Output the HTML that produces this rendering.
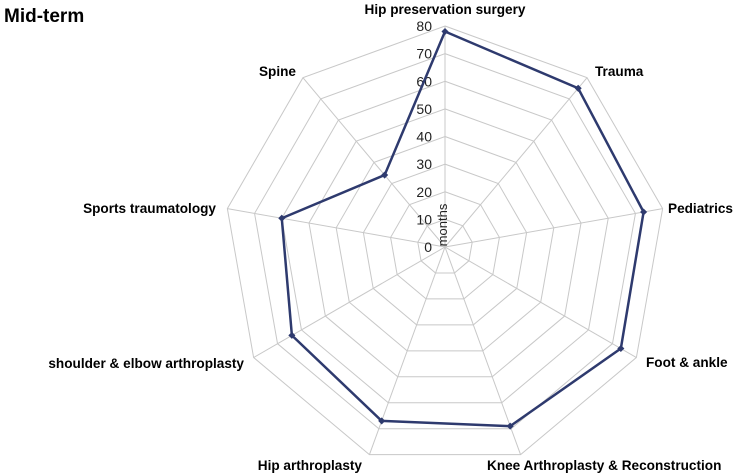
<!DOCTYPE html>
<html><head><meta charset="utf-8"><style>
html,body{margin:0;padding:0;background:#fff;}
svg{display:block;font-family:"Liberation Sans",Arial,sans-serif;}
</style></head><body>
<svg id="chart" width="738" height="476">
<text x="4" y="22" font-size="19" font-weight="bold" fill="#000">Mid-term</text>
<g id="grid"></g><g id="ticks"></g><g id="labels"></g><g id="series"></g>
</svg>
<script>
const categories=["Hip preservation surgery","Trauma","Pediatrics","Foot & ankle","Knee Arthroplasty & Reconstruction","Hip arthroplasty","shoulder & elbow arthroplasty","Sports traumatology","Spine"];
const values=[78,75,73,73.5,69,67,64,60,34];
const tickLabels=[0,10,20,30,40,50,60,70,80];
const maxV=80;
const cx=445,cy=247,R=221;
const labelPos=[[445,14,'middle'],[595,76,'start'],[668,213,'start'],[646,367,'start'],[487,470,'start'],[362,470,'end'],[244,368,'end'],[216,213,'end'],[296,76,'end']];
const NS="http://www.w3.org/2000/svg";
function rScale(v){return v/maxV*R;}
function pt(i,v){const a=i*2*Math.PI/categories.length;return [cx+rScale(v)*Math.sin(a),cy-rScale(v)*Math.cos(a)];}
function mk(tag,attrs,parent){const e=document.createElementNS(NS,tag);for(const k in attrs)e.setAttribute(k,attrs[k]);document.getElementById(parent).appendChild(e);return e;}
tickLabels.slice(1).forEach(t=>{
  const p=mk('polygon',{points:categories.map((c,i)=>pt(i,t).join(',')).join(' '),fill:'none',stroke:'#c8c8c8','stroke-width':1},'grid');
  
  
});
categories.forEach((c,i)=>{
  const e=pt(i,maxV);
  const l=mk('line',{x1:cx,y1:cy,x2:e[0],y2:e[1],stroke:'#c8c8c8','stroke-width':1},'grid');
  
  
  const lp=labelPos[i];
  const t=mk('text',{x:lp[0],y:lp[1],'font-size':13.6,'font-weight':'bold','text-anchor':lp[2],fill:'#000'},'labels');
  t.textContent=c;
  
  
});
tickLabels.forEach(t=>{
  const y=cy-rScale(t);
  const e=mk('text',{x:cx-13,y:y+5,'font-size':14,'text-anchor':'end',fill:'#222'},'ticks');
  e.textContent=t;
  
  
});
const at=mk('text',{x:0,y:0,'font-size':13,'text-anchor':'middle',fill:'#222',transform:`translate(${cx+2},${cy-22}) rotate(-90)`},'ticks');
at.textContent='months';


const poly=mk('polygon',{points:values.map((v,i)=>pt(i,v).join(',')).join(' '),fill:'none',stroke:'#2e3a6e','stroke-width':2.5,'stroke-linejoin':'round'},'series');


values.forEach((v,i)=>{
  const p=pt(i,v);
  const m=mk('rect',{x:p[0]-2.5,y:p[1]-2.5,width:5,height:5,fill:'#2e3a6e',transform:`rotate(45 ${p[0]} ${p[1]})`},'series');
  
  
});
</script>
</body></html>
